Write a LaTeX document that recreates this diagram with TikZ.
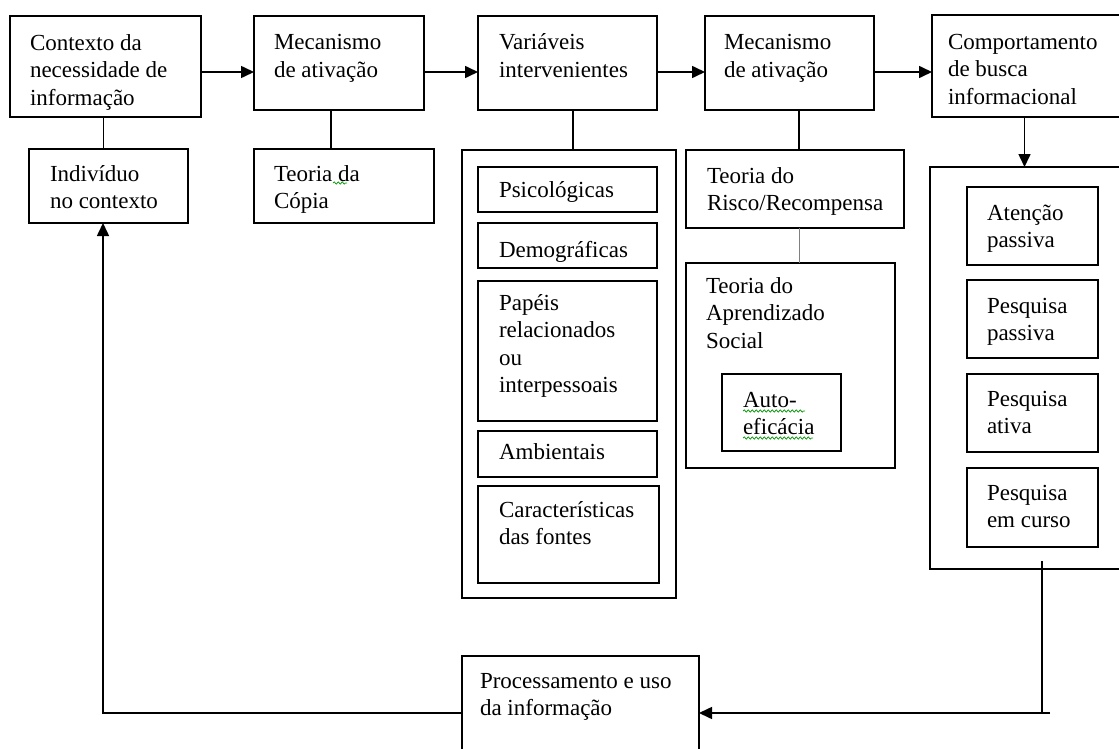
\documentclass[tikz,border=0pt]{standalone}
\usepackage{fontspec}
\setmainfont{Liberation Serif}
\usetikzlibrary{arrows.meta,decorations.pathmorphing,calc}
\newcommand\Bx[5]{\node[bx,minimum width=#4bp,minimum height=#5bp] (#1) at (#2,#3) {};}
\newcommand\Tx[4]{\node[tx] (#1) at (#2,#3) {\strut #4};}
\begin{document}
\begin{tikzpicture}[x=1bp,y=-1bp,
  bx/.style={draw,line width=1.6bp,inner sep=0pt,outer sep=0pt,anchor=north west},
  tx/.style={inner sep=0pt,outer sep=0pt,anchor=north west,align=left,
             font=\fontsize{23bp}{27.5bp}\selectfont,yshift=19.25bp},
  ln/.style={line width=1.6bp},
  arr/.style={ln,-{Triangle[length=13bp,width=12bp]}},
  sq/.style={green!60!black,line width=0.7bp,decorate,
             decoration={snake,amplitude=1.2bp,segment length=4bp}}]
\clip (0,0) rectangle (1119,749);
\fill[white] (0,0) rectangle (1119,749);
% top row
\Bx{b1}{10}{16}{191}{101}
\Bx{b2}{254}{16}{170}{94}
\Bx{b3}{478}{16}{179}{94}
\Bx{b4}{705}{16}{169}{94}
\Bx{b5}{932}{15}{193}{102}
\Tx{t1}{30}{50}{Contexto da\\necessidade de\\informação}
\Tx{t2}{274}{50}{Mecanismo\\de ativação}
\Tx{t3}{499}{50}{Variáveis\\intervenientes}
\Tx{t4}{724}{50}{Mecanismo\\de ativação}
\Tx{t5}{948}{49}{Comportamento\\de busca\\informacional}
% second row
\Bx{ind}{29}{149}{159}{74}
\Bx{cop}{254}{149}{180}{74}
\Tx{tind}{50}{181}{Indivíduo\\no contexto}
\Tx{tcop}{274}{181}{Teoria da\\Cópia}
% variables
\Bx{varb}{462}{150}{214}{448}
\Bx{psi}{478}{167}{179}{45}
\Bx{dem}{478}{223}{179}{45}
\Bx{pap}{478}{281}{179}{140}
\Bx{amb}{478}{431}{179}{46}
\Bx{car}{478}{486}{181}{97}
\Tx{tpsi}{499}{197}{Psicológicas}
\Tx{tdem}{499}{257}{Demográficas}
\Tx{tpap}{499}{310}{Papéis\\relacionados\\ou\\interpessoais}
\Tx{tamb}{499}{459}{Ambientais}
\Tx{tcar}{499}{517}{Características\\das fontes}
% theories
\Bx{ris}{686}{150}{218}{78}
\Bx{apr}{686}{263}{209}{205}
\Bx{aut}{722}{374}{119}{77}
\Tx{tris}{707}{183}{Teoria do\\Risco/Recompensa}
\Tx{tapr}{706}{293}{Teoria do\\Aprendizado\\Social}
\Tx{taut}{743}{407}{Auto-\\eficácia}
% search behaviour
\Bx{rb}{930}{167}{195}{402}
\Bx{ate}{967}{187}{131}{78}
\Bx{pp}{967}{280}{131}{78}
\Bx{pa}{967}{374}{131}{78}
\Bx{pc}{967}{468}{131}{79}
\Tx{tate}{987}{220}{Atenção\\passiva}
\Tx{tpp}{987}{313}{Pesquisa\\passiva}
\Tx{tpa}{987}{406}{Pesquisa\\ativa}
\Tx{tpc}{987}{500}{Pesquisa\\em curso}
% processing
\Bx{proc}{462}{656}{237}{124}
\Tx{tproc}{480}{688}{Processamento e uso\\da informação}
% connectors
\coordinate (ya) at (0,72);
\coordinate (yb) at (0,713);
\coordinate (yc) at (1050,713);
\draw[arr] (b1.east|-ya) -- (b2.west|-ya);
\draw[arr] (b2.east|-ya) -- (b3.west|-ya);
\draw[arr] (b3.east|-ya) -- (b4.west|-ya);
\draw[arr] (b4.east|-ya) -- (b5.west|-ya);
\draw[ln] ([xshift=-5bp]ind.north) -- ([xshift=-5bp]ind.north |- b1.south);
\draw[ln] ([xshift=-13bp]cop.north) -- ([xshift=-13bp]cop.north |- b2.south);
\draw[ln] ([xshift=4bp]varb.north) -- ([xshift=4bp]varb.north |- b3.south);
\draw[ln] ([xshift=4bp]ris.north) -- ([xshift=4bp]ris.north |- b4.south);
\draw[gray,line width=1bp] ([xshift=4bp]ris.south) -- ([xshift=4bp]ris.south |- apr.north);
\draw[arr] ([xshift=-4bp]b5.south) -- ([xshift=-4bp]b5.south |- rb.north);
\draw[ln] ([xshift=14.5bp,yshift=8bp]rb.south) -- ([xshift=14.5bp]rb.south |- yb);
\draw[arr] (yc) -- (proc.east |- yb);
\draw[arr] (proc.west |- yb) -- ([xshift=-5.5bp]ind.south |- yb) -- ([xshift=-5.5bp]ind.south);
% spell-check squiggles
\draw[sq] (333,183) -- (347,183);
\draw[sq] (743,411) -- (805,411);
\draw[sq] (743,438) -- (813,438);
\end{tikzpicture}
\end{document}
